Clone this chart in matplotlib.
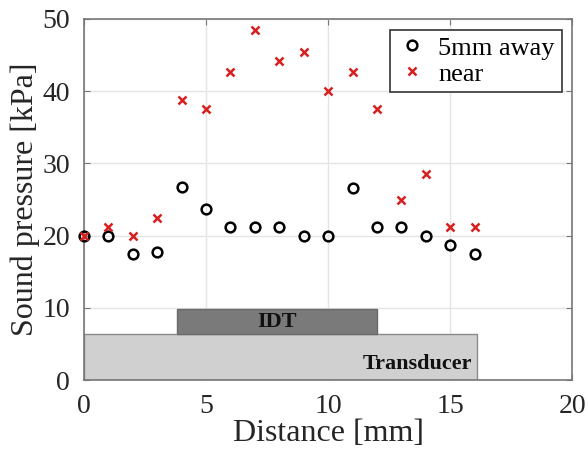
import numpy as np
import matplotlib.pyplot as plt
from matplotlib.patches import Rectangle

plt.rcParams['font.family'] = ['Liberation Serif', 'DejaVu Serif']

distance = np.arange(0, 17)
away_5mm = [20.0, 20.0, 17.4, 17.8, 26.8, 23.7, 21.2, 21.2, 21.2, 20.0, 20.0,
            26.6, 21.2, 21.2, 20.0, 18.7, 17.4]
near = [20.0, 21.2, 20.0, 22.5, 38.8, 37.5, 42.6, 48.5, 44.2, 45.4, 40.0,
        42.6, 37.5, 24.9, 28.5, 21.2, 21.2]

# blocks drawn under the data: (x0, x1, y0, y1)
transducer = (0, 16.1, 0, 6.4)
idt = (3.8, 12.0, 6.4, 9.8)

fig = plt.figure(figsize=(5.88, 4.63), dpi=100)
ax = fig.add_axes([0.143, 0.179, 0.830, 0.780])

ax.add_patch(Rectangle((transducer[0], transducer[2]), transducer[1] - transducer[0],
                       transducer[3] - transducer[2], facecolor='#d0d0d0',
                       edgecolor='#8a8a8a', lw=1, zorder=2))
ax.add_patch(Rectangle((idt[0], idt[2]), idt[1] - idt[0], idt[3] - idt[2],
                       facecolor='#7a7a7a', edgecolor='#6a6a6a', lw=1, zorder=2))
ax.text((idt[0] + idt[1]) / 2, (idt[2] + idt[3]) / 2, 'IDT', ha='center', va='center',
        fontsize=16, fontweight='bold', color='#111111', zorder=3)
ax.text(transducer[1] - 0.2, 2.3, 'Transducer', ha='right', va='center',
        fontsize=16, fontweight='bold', color='#111111', zorder=3)

ax.plot(distance, away_5mm, 'o', ls='none', mfc='none', mec='black', mew=1.8, ms=7,
        label='5mm away', zorder=4, clip_on=False)
ax.plot(distance, near, 'x', ls='none', color='#d62020', mew=1.8, ms=6,
        label='near', zorder=5, clip_on=False)

ax.set_xlim(0, 20)
ax.set_ylim(0, 50)
ax.set_xticks([0, 5, 10, 15, 20])
ax.set_yticks([0, 10, 20, 30, 40, 50])
ax.grid(True, color='#e4e4e4', lw=1)
ax.set_axisbelow(True)
ax.tick_params(direction='in', top=True, right=True, labelsize=20, length=4,
               color='#777777', labelcolor='#262626', pad=10)
for s in ax.spines.values():
    s.set_color('#777777')
    s.set_linewidth(1.2)

ax.set_xlabel('Distance [mm]', fontsize=23, labelpad=0, color='#262626')
ax.set_ylabel('Sound pressure [kPa]', fontsize=23, labelpad=2, color='#262626')

leg = ax.legend(loc='upper right', fontsize=19, fancybox=False, framealpha=1,
                edgecolor='#333333', borderaxespad=0.4, handletextpad=0.4,
                handlelength=1.2, borderpad=0.25, labelspacing=0.1)
leg.get_frame().set_linewidth(1.2)

fig.savefig('out.png', dpi=100)
